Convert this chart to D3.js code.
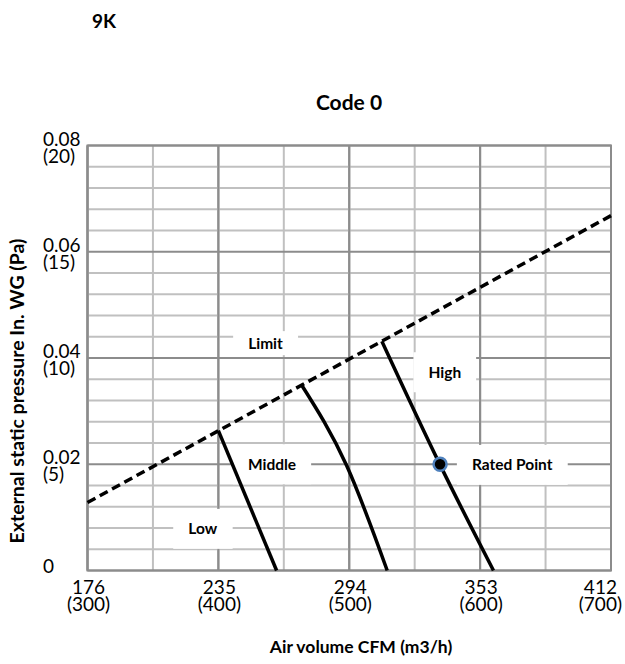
<!DOCTYPE html>
<html>
<head>
<meta charset="utf-8">
<script src="https://cdn.jsdelivr.net/npm/d3@7"></script>
<style>
  body { margin: 0; background: #fff; }
  svg text { font-family: Lato, "Open Sans", sans-serif; fill: #000; }
  .title { font-weight: bold; }
  .tick-label { font-size: 19px; }
  .note { font-weight: bold; font-size: 15.5px; }
  .axis-title { font-weight: bold; }
</style>
</head>
<body>
<div id="chart"></div>
<script>
// air volume ticks (m3/h) and their CFM labels
const flowTicks = [300, 400, 500, 600, 700];
const cfmLabels = ['176', '235', '294', '353', '412'];
// static pressure ticks (Pa) and their in. WG labels
const paTicks = [0, 5, 10, 15, 20];
const inwgLabels = ['0', '0.02', '0.04', '0.06', '0.08'];

// curves as [m3/h, Pa]
const limitLine = [[300, 3.2], [700, 16.7]];
const lowCurve = [[400, 6.58], [444.5, 0]];
const middleCurve = [[463.7, 8.72], [498, 4.94], [529, 0]];
const highCurve = [[524.9, 10.79], [569.4, 4.97], [610.2, 0]];
const ratedPoint = [569.4, 5];

const noteTexts = ['Limit', 'High', 'Middle', 'Rated Point', 'Low'];
const noteFlows = [436, 573, 441, 624.5, 388];
const notePas = [10.7, 9.33, 5.0, 4.97, 1.96];

const width = 625;
const height = 664;
const margin = {top: 145.5, right: 14, bottom: 93.5, left: 87.5};
const plotW = width - margin.left - margin.right;
const plotH = height - margin.top - margin.bottom;

const majorColor = '#8c8c8c';
const minorColor = '#c0c0c0';

let svg = d3.select('#chart').append('svg')
  .attr('width', width)
  .attr('height', height)

svg.append('text')
  .classed('title', true)
  .attr('x', 92)
  .attr('y', 28)
  .style('font-size', '19px')
  .text('9K')

svg.append('text')
  .classed('title', true)
  .attr('x', 349)
  .attr('y', 110)
  .attr('text-anchor', 'middle')
  .style('font-size', '21px')
  .text('Code 0')

let x = d3.scaleLinear().domain([300, 700]).range([0, plotW]);
let y = d3.scaleLinear().domain([0, 20]).range([plotH, 0]);

let plot = svg.append('g')
  .attr('transform', `translate(${margin.left}, ${margin.top})`)

// grid: minor first, major on top
let vLines = d3.range(300, 701, 50);
let hLines = d3.range(0, 21, 1);

plot.selectAll('line.vgrid').data(vLines).enter().append('line')
  .attr('x1', d => x(d)).attr('x2', d => x(d))
  .attr('y1', 0).attr('y2', plotH)
  .attr('stroke', d => d % 100 === 0 ? majorColor : minorColor)
  .attr('stroke-width', 2)

plot.selectAll('line.hgrid').data(hLines).enter().append('line')
  .attr('x1', 0).attr('x2', plotW)
  .attr('y1', d => y(d)).attr('y2', d => y(d))
  .attr('stroke', d => d % 5 === 0 ? majorColor : minorColor)
  .attr('stroke-width', 2)

plot.selectAll('line.major').data(vLines.filter(d => d % 100 === 0)).enter().append('line')
  .attr('x1', d => x(d)).attr('x2', d => x(d))
  .attr('y1', 0).attr('y2', plotH)
  .attr('stroke', majorColor)
  .attr('stroke-width', 2)

plot.append('rect')
  .attr('width', plotW)
  .attr('height', plotH)
  .attr('fill', 'none')
  .attr('stroke', majorColor)
  .attr('stroke-width', 2)

// white label boxes (the Limit box is shorter in the original)
let notes = noteTexts.map((t, i) => ({text: t, flow: noteFlows[i], pa: notePas[i]}));

let noteGroups = plot.selectAll('g.note').data(notes).enter().append('g')
  .attr('transform', d => `translate(${x(d.flow)}, ${y(d.pa)})`)

noteGroups.append('text')
  .classed('note', true)
  .attr('text-anchor', 'middle')
  .attr('dy', '0.35em')
  .text(d => d.text)

noteGroups.each(function (d) {
  let g = d3.select(this);
  let bb = g.select('text').node().getBBox();
  let boxH = d.text === 'Limit' ? 24 : 40;
  g.insert('rect', 'text')
    .attr('x', bb.x - 15)
    .attr('y', -boxH / 2)
    .attr('width', bb.width + 30)
    .attr('height', boxH)
    .attr('fill', '#fff')
});

// curves
let line = d3.line()
  .x(d => x(d[0]))
  .y(d => y(d[1]))

plot.append('path')
  .datum(limitLine)
  .attr('d', line)
  .attr('fill', 'none')
  .attr('stroke', '#000')
  .attr('stroke-width', 3.5)
  .attr('stroke-dasharray', '9,5')

let curve = d3.line()
  .x(d => x(d[0]))
  .y(d => y(d[1]))
  .curve(d3.curveMonotoneX)

plot.selectAll('path.fan').data([lowCurve, middleCurve, highCurve]).enter().append('path')
  .attr('d', curve)
  .attr('fill', 'none')
  .attr('stroke', '#000')
  .attr('stroke-width', 3.5)

plot.append('circle')
  .attr('cx', x(ratedPoint[0]))
  .attr('cy', y(ratedPoint[1]))
  .attr('r', 6.5)
  .attr('fill', '#000')
  .attr('stroke', '#4f81bd')
  .attr('stroke-width', 2.5)

// y tick labels
let yLab = svg.selectAll('text.ytick').data(paTicks).enter().append('text')
  .classed('tick-label', true)
  .attr('x', 43)
  .attr('y', d => margin.top + y(d) + (d === 0 ? 2 : 0))

yLab.append('tspan')
  .attr('x', 43)
  .text((d, i) => inwgLabels[i])

yLab.filter(d => d !== 0).append('tspan')
  .attr('x', 43)
  .attr('dy', 17)
  .text(d => `(${d})`)

// x tick labels, the last one pulled in so it stays on the page
let xLab = svg.selectAll('text.xtick').data(flowTicks).enter().append('text')
  .classed('tick-label', true)
  .attr('text-anchor', 'middle')
  .attr('y', margin.top + plotH + 23)

xLab.append('tspan')
  .attr('x', d => margin.left + x(d) + 1)
  .text((d, i) => cfmLabels[i])

xLab.append('tspan')
  .attr('x', d => margin.left + x(d) + 1)
  .attr('dy', 17)
  .text(d => `(${d})`)

xLab.each(function () {
  let bb = this.getBBox();
  let over = bb.x + bb.width - (width - 3);
  if (over > 0) d3.select(this).attr('transform', `translate(${-over}, 0)`);
});

svg.append('text')
  .classed('axis-title', true)
  .attr('x', 361)
  .attr('y', 653)
  .attr('text-anchor', 'middle')
  .style('font-size', '17.5px')
  .text('Air volume CFM (m3/h)')

svg.append('text')
  .classed('axis-title', true)
  .attr('transform', 'translate(24, 391) rotate(-90)')
  .attr('text-anchor', 'middle')
  .style('font-size', '19.5px')
  .text('External static pressure In. WG (Pa)')
</script>
</body>
</html>
